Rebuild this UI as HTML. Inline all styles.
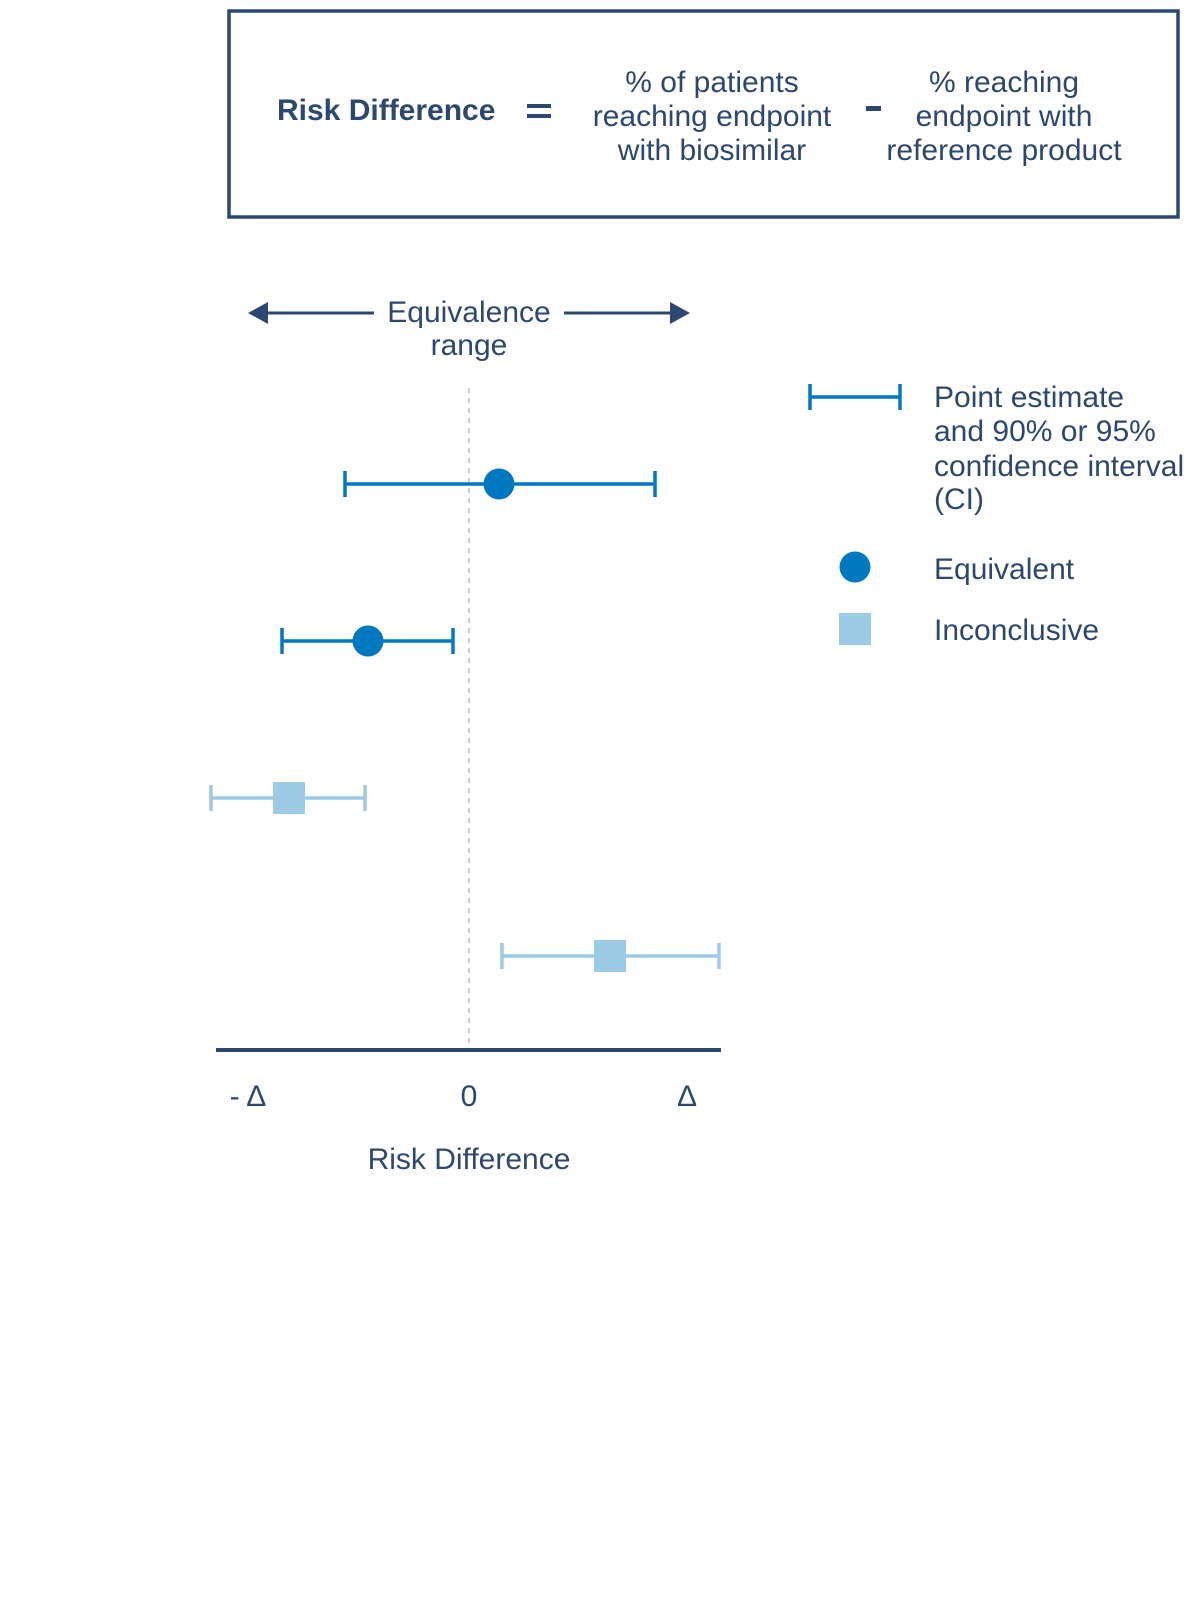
<!DOCTYPE html>
<html><head><meta charset="utf-8"><style>
body{margin:0;background:#fff}
svg{display:block}
text{font-family:"Liberation Sans",Arial,sans-serif;fill:#2c4870;font-size:30px}
</style></head><body>
<svg width="1200" height="1600" viewBox="0 0 1200 1600" xmlns="http://www.w3.org/2000/svg">
<rect x="229" y="11" width="949" height="206" fill="none" stroke="#2c4870" stroke-width="3.5"/>
<text x="277" y="120" font-weight="bold" font-size="30">Risk Difference</text>
<rect x="527" y="104" width="24" height="4" fill="#2c4870"/>
<rect x="527" y="114" width="24" height="4" fill="#2c4870"/>
<g text-anchor="middle">
<text x="712" y="92">% of patients</text>
<text x="712" y="126">reaching endpoint</text>
<text x="712" y="160">with biosimilar</text>
<text x="1004" y="92">% reaching</text>
<text x="1004" y="126">endpoint with</text>
<text x="1004" y="160">reference product</text>
</g>
<rect x="866" y="106" width="15" height="5" fill="#2c4870"/>
<line x1="262" y1="313" x2="374" y2="313" stroke="#2c4870" stroke-width="3"/>
<polygon points="248,313 268,302 268,324" fill="#2c4870"/>
<line x1="564" y1="313" x2="676" y2="313" stroke="#2c4870" stroke-width="3"/>
<polygon points="690,313 670,302 670,324" fill="#2c4870"/>
<text x="469" y="322" text-anchor="middle">Equivalence</text>
<text x="469" y="355" text-anchor="middle">range</text>
<line x1="469" y1="388" x2="469" y2="1050" stroke="#bbb" stroke-width="1.5" stroke-dasharray="5,5"/>
<line x1="216" y1="1050" x2="721" y2="1050" stroke="#2c4870" stroke-width="4"/>
<text x="248" y="1106" text-anchor="middle">- Δ</text>
<text x="469" y="1106" text-anchor="middle">0</text>
<text x="687" y="1106" text-anchor="middle">Δ</text>
<text x="469" y="1169" text-anchor="middle">Risk Difference</text>
<g stroke="#0079c1" stroke-width="3.5">
<line x1="345" y1="484" x2="655" y2="484"/><line x1="345" y1="471" x2="345" y2="497"/><line x1="655" y1="471" x2="655" y2="497"/>
<line x1="282" y1="641" x2="453" y2="641"/><line x1="282" y1="628" x2="282" y2="654"/><line x1="453" y1="628" x2="453" y2="654"/>
<line x1="810" y1="397" x2="900" y2="397"/><line x1="810" y1="384" x2="810" y2="410"/><line x1="900" y1="384" x2="900" y2="410"/>
</g>
<circle cx="499" cy="484" r="15.5" fill="#0079c1"/>
<circle cx="368" cy="641" r="15.5" fill="#0079c1"/>
<g stroke="#9ccbe6" stroke-width="3.5">
<line x1="211" y1="798" x2="365" y2="798"/><line x1="211" y1="785" x2="211" y2="811"/><line x1="365" y1="785" x2="365" y2="811"/>
<line x1="502" y1="956" x2="719" y2="956"/><line x1="502" y1="943" x2="502" y2="969"/><line x1="719" y1="943" x2="719" y2="969"/>
</g>
<rect x="273" y="782" width="32" height="32" fill="#9ccbe6"/>
<rect x="594" y="940" width="32" height="32" fill="#9ccbe6"/>
<text x="934" y="407">Point estimate</text>
<text x="934" y="441">and 90% or 95%</text>
<text x="934" y="476">confidence interval</text>
<text x="934" y="509">(CI)</text>
<circle cx="855" cy="567" r="15.5" fill="#0079c1"/>
<text x="934" y="579">Equivalent</text>
<rect x="839" y="613" width="32" height="32" fill="#9ccbe6"/>
<text x="934" y="640">Inconclusive</text>
</svg>
</body></html>
